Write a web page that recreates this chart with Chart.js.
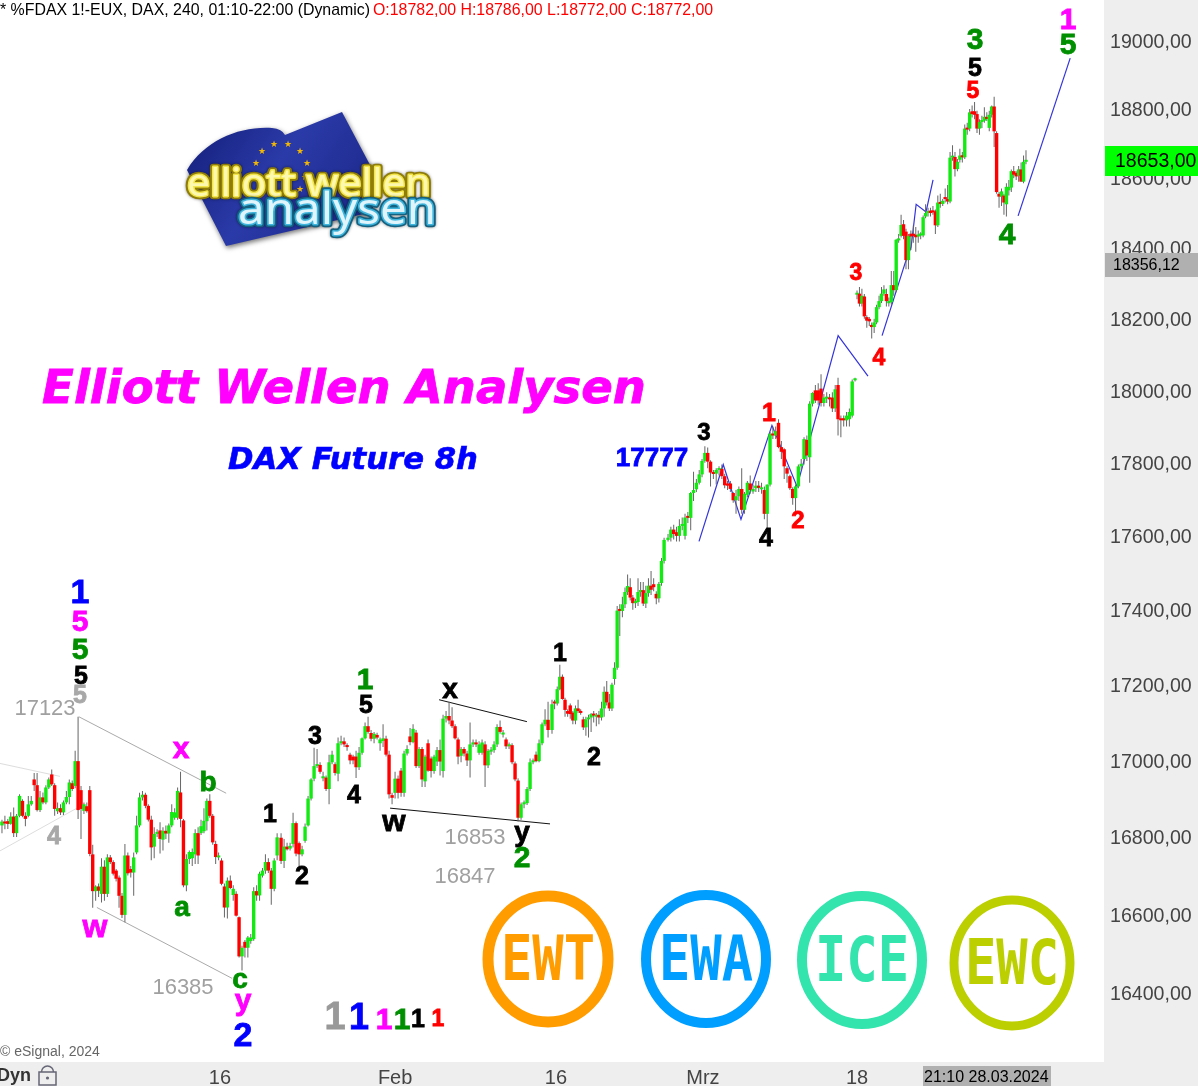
<!DOCTYPE html>
<html>
<head>
<meta charset="utf-8">
<title>DAX Future 8h</title>
<script src="https://cdn.jsdelivr.net/npm/chart.js@4"></script>
<style>
body { margin: 0; background: #fff; }
canvas { display: block; }
</style>
</head>
<body>
<canvas id="myChart" width="1198" height="1086"></canvas>
<script>
// open, high, low, close
var janBars = [
[16835,16850,16815,16845],[16845,16860,16825,16840],
[16846,16852,16826,16839],[16839,16869,16837,16858],[16858,16882,16805,16815],[16815,16865,16805,16860],[16860,16916,16856,16912],[16899,16903,16856,16860],
[16860,16869,16833,16852],[16860,16912,16856,16890],[16890,16912,16886,16899],[16955,16972,16925,16940],[16940,16972,16871,16875],[16875,16925,16870,16908],
[16908,16921,16890,16895],[16895,16940,16890,16934],[16934,16960,16930,16955],[16968,16981,16938,16942],[16940,16945,16860,16878],[16872,16895,16865,16880],
[16880,16890,16862,16869],[16869,16900,16862,16895],[16895,16925,16890,16909],[16909,16955,16890,16947],[16945,16952,16925,16930],[16938,17030,16932,17003],
[17003,17120,16852,16875],[16927,16938,16800,16878],[16873,16895,16865,16890],[16885,16895,16868,16872],[16927,16938,16755,16761],[16760,16785,16622,16665],
[16665,16680,16640,16677],[16677,16685,16650,16666],[16658,16750,16636,16728],[16728,16745,16640,16658],[16658,16760,16650,16752],[16752,16758,16735,16740],
[16740,16745,16705,16710],[16718,16722,16690,16697],[16700,16705,16622,16653],[16653,16660,16596,16604],[16604,16787,16585,16757],[16757,16765,16705,16711],
[16722,16730,16700,16713],[16713,16765,16653,16752],[16765,16860,16760,16835],[16835,16920,16830,16908],[16908,16925,16900,16915],[16915,16920,16880,16886],
[16886,16890,16845,16850],[16850,16860,16745,16778],[16780,16830,16750,16813],[16813,16825,16805,16815],[16822,16843,16762,16800],[16798,16830,16770,16821],
[16821,16835,16800,16814],[16814,16840,16790,16835],[16835,16890,16830,16870],[16855,16880,16850,16869],[16855,16934,16850,16925],[16921,16975,16830,16852],
[16848,16852,16675,16680],[16680,16760,16665,16748],[16748,16770,16735,16766],[16750,16775,16730,16766],[16760,16825,16735,16815],[16815,16830,16735,16757],
[16815,16850,16810,16833],[16820,16880,16815,16847],[16846,16905,16822,16899],[16899,16916,16855,16860],[16860,16865,16785,16791],[16787,16795,16735,16753],
[16752,16765,16745,16757],[16744,16750,16680,16684],[16677,16685,16597,16623],[16623,16700,16595,16692],[16692,16705,16670,16673],[16655,16680,16640,16671],
[16658,16665,16600,16602],[16598,16600,16495,16498],[16498,16525,16462,16520],[16535,16540,16495,16520],[16520,16550,16495,16546],[16537,16555,16530,16546],
[16542,16675,16538,16665],[16665,16680,16640,16654],[16654,16715,16640,16710],[16705,16725,16700,16718],[16718,16760,16710,16740],[16740,16750,16712,16718],
[16718,16725,16630,16671],[16671,16750,16665,16744],[16757,16815,16745,16804]
]
var febBars = [
[16803,16815,16735,16743],[16743,16800,16725,16780],[16780,16790,16770,16773],[16775,16790,16770,16782],[16787,16868,16778,16841],[16841,16845,16755,16762],
[16789,16793,16730,16760],[16760,16782,16755,16773],[16795,16840,16790,16832],[16835,16912,16832,16905],[16905,16958,16900,16955],[16957,17038,16950,16990],
[16990,17035,16985,16993],[16993,17000,16970,16975],[16958,16975,16950,16963],[16960,16965,16925,16930],[16930,17020,16890,17000],[17000,17030,16995,17020],
[16995,17000,16965,16972],[16970,17065,16950,17050],[17050,17070,17045,17055],[17055,17065,17040,17047],[17045,17050,17030,17040],[17020,17025,16995,17005],
[17015,17020,16995,17005],[17015,17030,16959,16987],[16987,17040,16980,17025],[17025,17065,17020,17063],[17063,17105,17060,17095],[17095,17120,17075,17080],
[17077,17085,17055,17062],[17062,17080,17050,17075],[17072,17078,17060,17065],[17050,17065,17030,17060],[17056,17100,17040,17063],[17062,17070,17015,17020],
[17020,17030,16905,16916],[16914,16920,16890,16907],[16920,16975,16905,16957],[16957,16965,16905,16920],[16978,16985,16910,16920],[16920,17030,16910,17023],
[17023,17045,17018,17035],[17068,17090,17045,17053],[17053,17100,17050,17088],[17078,17085,16985,16990],[16990,17040,16985,17035],[17035,17040,16935,16955],
[16950,17020,16935,17015],[17050,17060,16975,16978],[17010,17015,16960,16977],[16977,17020,16970,17015],[17002,17040,16990,17032],[17032,17060,16965,17002],
[16977,17125,16960,17115],[17115,17135,17105,17122],[17122,17160,17100,17110],[17110,17145,17090,17095],[17095,17100,17060,17063],[17060,17065,16995,17015],
[17017,17040,17000,17035],[17035,17040,17015,17023],[17023,17030,16990,17005],[17005,17105,16960,17047],[17047,17060,17040,17052],[17052,17060,17040,17047],
[17025,17055,17020,17047],[17025,17060,17020,17052],[17047,17055,16935,16992],[16992,17035,16985,17030],[17028,17040,17020,17032],[17032,17055,17025,17047],
[17047,17100,17040,17093],[17093,17110,17075,17080],[17073,17085,17065,17078],[17060,17065,17035,17042],[17042,17052,17035,17047],[17045,17050,16995,17000],
[16997,17002,16950,16955],[16952,16958,16845,16855],[16855,16895,16850,16890],[16890,16900,16880,16893],[16893,16935,16888,16930],[16930,17010,16925,17000],
[17000,17010,16995,17005],[17020,17028,17000,17003],[17003,17060,17000,17050],[17050,17105,17045,17100],[17100,17140,17095,17112],[17112,17160,17065,17085]
]
var lateFebBars = [
[17085,17165,17075,17153],[17160,17165,17140,17155],[17155,17200,17150,17193],[17193,17258,17190,17226],[17226,17232,17165,17167],[17165,17170,17120,17138],
[17135,17140,17120,17128],[17150,17155,17115,17127],[17131,17135,17100,17110],[17110,17150,17100,17142],[17142,17165,17130,17135],[17135,17140,17125,17130],
[17113,17120,17085,17092],[17092,17120,17070,17113],[17113,17125,17065,17118],[17118,17130,17080,17127],[17127,17135,17105,17123],[17120,17130,17095,17125],
[17125,17135,17100,17118],[17118,17160,17110,17142],[17142,17200,17120,17186],[17186,17215,17150,17158],[17158,17180,17135,17142],[17142,17210,17135,17205],
[17220,17265,17205,17250],[17250,17415,17245,17403],[17405,17420,17335,17402],[17402,17440,17385,17420],[17420,17465,17410,17453],[17453,17500,17445,17469],
[17466,17490,17430,17438],[17438,17445,17405,17423],[17423,17435,17410,17426],[17426,17490,17415,17453],[17453,17480,17440,17458],[17458,17480,17415,17422],
[17422,17470,17410,17450],[17450,17490,17440,17470],[17470,17510,17445,17459],[17474,17490,17455,17466],[17448,17455,17420,17436],[17436,17480,17425,17475],
[17477,17545,17470,17537],[17537,17600,17530,17594]
]
var marBars = [
[17594,17610,17590,17600],[17600,17630,17590,17622],[17622,17635,17595,17610],[17615,17630,17590,17605],[17605,17650,17590,17632],[17632,17655,17620,17636],
[17605,17665,17595,17655],[17657,17670,17640,17654],[17654,17725,17620,17722],[17722,17780,17700,17730],[17732,17760,17725,17750],[17750,17785,17745,17773],
[17773,17815,17765,17810],[17810,17850,17805,17832],[17832,17847,17790,17808],[17808,17812,17740,17778],[17778,17785,17760,17774],[17775,17790,17745,17785],
[17785,17795,17770,17788],[17788,17800,17760,17768],[17768,17775,17735,17743],[17748,17755,17730,17742],[17748,17755,17725,17733],[17722,17725,17695,17702],
[17702,17730,17665,17713],[17713,17740,17700,17733],[17733,17790,17665,17676],[17676,17725,17665,17720],[17717,17755,17710,17750],[17748,17770,17720,17730],
[17726,17745,17720,17733],[17735,17755,17725,17742],[17742,17755,17725,17736],[17732,17750,17720,17734],[17730,17740,17650,17665],[17665,17745,17620,17745],
[17745,17890,17740,17885],[17885,17905,17870,17880],[17880,17905,17870,17892],[17915,17925,17845,17848],[17848,17865,17815,17835],[17842,17845,17760,17795],
[17790,17795,17750,17775],[17768,17772,17730,17735],[17733,17738,17690,17708],[17708,17745,17670,17740],[17740,17800,17735,17795],[17795,17815,17785,17802],
[17815,17875,17800,17870],[17868,17880,17810,17825],[17820,17975,17750,17968],[17968,18000,17960,17998],[18005,18020,17970,17977],[18005,18025,17965,17977],
[18010,18050,17960,17970],[17970,17995,17960,17985],[17982,18000,17970,17985],[17985,17995,17960,17980],[17985,18000,17945,17955],[17955,18020,17945,18008],
[18020,18040,17880,17925],[17925,17935,17875,17922],[17925,17935,17905,17922],[17922,17945,17905,17935],[17925,17955,17905,17945],[17935,18035,17930,18030],
[18033,18040,18030,18037]
]
var lateMarBars = [
[18273,18285,18260,18276],[18276,18295,18240,18248],[18248,18290,18240,18270],[18268,18275,18205,18212],[18210,18215,18180,18200],[18205,18210,18185,18198],
[18188,18195,18150,18182],[18182,18205,18165,18195],[18195,18245,18190,18238],[18238,18270,18232,18255],[18255,18295,18250,18276],[18276,18300,18270,18288],
[18275,18290,18240,18255],[18249,18265,18240,18255],[18252,18340,18245,18300],[18300,18340,18270,18286],[18286,18430,18280,18429],[18427,18445,18420,18429],
[18440,18500,18435,18471],[18473,18485,18430,18440],[18452,18460,18345,18371],[18371,18445,18345,18440],[18446,18455,18400,18438],[18446,18470,18420,18440],
[18443,18465,18395,18436],[18438,18455,18420,18441],[18441,18450,18430,18444],[18441,18498,18436,18493],[18495,18530,18490,18505],[18505,18520,18495,18510],
[18512,18520,18495,18505],[18512,18525,18500,18507],[18510,18515,18445,18470],[18470,18555,18465,18535],[18535,18560,18520,18531],[18531,18545,18525,18540],
[18550,18575,18535,18545],[18545,18585,18530,18538],[18538,18680,18533,18664],[18664,18700,18655,18666],[18666,18680,18610,18631],[18631,18660,18625,18652],
[18658,18690,18650,18670],[18670,18680,18650,18665],[18665,18760,18660,18748],[18748,18765,18730,18745],[18748,18805,18740,18795],[18798,18815,18780,18790],
[18798,18825,18775,18788],[18790,18800,18735,18748],[18748,18775,18730,18767],[18767,18785,18750,18771],[18771,18810,18765,18782],[18782,18795,18770,18776],
[18750,18800,18740,18788],[18788,18815,18780,18812],[18812,18840,18695,18740],[18735,18740,18560,18565],[18560,18565,18520,18552],[18552,18575,18525,18567],
[18555,18560,18500,18535],[18530,18590,18495,18580],[18570,18600,18555,18580],[18578,18630,18565,18625],[18625,18640,18605,18615],[18620,18625,18600,18610],
[18612,18640,18595,18630],[18630,18650,18595,18595],[18595,18670,18590,18652],[18652,18685,18645,18656]
]

var yTicks = [19000,18800,18600,18400,18200,18000,17800,17600,17400,17200,17000,16800,16600,16400]
var dateLabels = ['16','Feb','16','Mrz','18']
var dateSlots = [77.6,139.8,196.9,249.1,303.8]

// first and last session slot of every block of bars
var blockFirst = [0.2,99.3,195.5,236.7,303.8]
var blockLast = [97.9,194.1,235.3,303.1,363.8]

// wave channels, [session slot, price]
var greyUpper = [[-0.5,16997],[20.8,16963]]
var greyLower = [[-0.5,16769],[26.8,16880]]
var channelTop = [[27.5,17120],[79.8,16919]]
var channelBottom = [[33.9,16623],[81.9,16442]]
var wedgeBottom = [[138,16880],[194.8,16839]]
var wedgeTop = [[155.4,17165],[186.6,17107]]
var blueSwingA = [[247.7,17590],[256.3,17800],[262.6,17650],[273.6,17908],[282.5,17740],[297.1,18158],[307.7,18045]]
var blueSwingB = [[312.7,18158],[320.9,18363],[323,18408],[324.8,18530],[328.3,18508],[330.8,18600]]
var blueSwingC = [[361,18497],[379.5,18953]]

var wicks = []
var bodies = []
var bodyColors = []
var blocks = [janBars, febBars, lateFebBars, marBars, lateMarBars]
for (var b = 0; b < blocks.length; b++){
    var step = (blockLast[b] - blockFirst[b]) / (blocks[b].length - 1)
    for (var i = 0; i < blocks[b].length; i++){
        var c = blocks[b][i]
        var slot = blockFirst[b] + i * step
        wicks.push({x: slot, y: [c[2], c[1]]})
        bodies.push({x: slot, y: [c[0], c[3]]})
        bodyColors.push(c[3] >= c[0] ? '#12ea12' : '#ff0000')
    }
}

function lineSet(points, color, width){
    return {
        type: 'line',
        data: points.map(function(p){ return {x: p[0], y: p[1]} }),
        borderColor: color,
        borderWidth: width,
        pointRadius: 0,
        tension: 0,
        fill: false,
        order: 3
    }
}

var money = function(v){ return v.toFixed(2).replace('.', ',') }

function put(ctx, text, x, y, size, color, weight){
    ctx.font = (weight || 'bold') + ' ' + size + 'px "Liberation Sans"'
    ctx.fillStyle = color
    ctx.textAlign = 'center'
    ctx.textBaseline = 'middle'
    ctx.fillText(text, x, y + 2)
    if (!weight){
        // the originals are a bit heavier than plain bold
        ctx.strokeStyle = color
        ctx.lineWidth = 0.8
        ctx.strokeText(text, x, y + 2)
    }
}

function ring(ctx, cx, cy, rx, ry, lw, color, text){
    ctx.save()
    ctx.strokeStyle = color
    ctx.lineWidth = lw
    ctx.beginPath()
    ctx.ellipse(cx, cy, rx, ry, 0, 0, Math.PI * 2)
    ctx.stroke()
    ctx.translate(cx, cy + 5)
    ctx.scale(0.84, 1)
    ctx.font = 'bold 62px "DejaVu Sans Mono"'
    ctx.fillStyle = color
    ctx.textAlign = 'center'
    ctx.textBaseline = 'middle'
    ctx.fillText(text, 0, 0)
    ctx.restore()
}

function logo(ctx){
    ctx.save()
    var g = ctx.createLinearGradient(190, 120, 370, 240)
    g.addColorStop(0, '#141f7a')
    g.addColorStop(0.45, '#2a3aa8')
    g.addColorStop(1, '#1a2686')
    ctx.shadowColor = 'rgba(0,0,0,0.55)'
    ctx.shadowBlur = 5
    ctx.shadowOffsetX = 1
    ctx.shadowOffsetY = 2
    ctx.fillStyle = g
    ctx.beginPath()
    ctx.moveTo(187, 170)
    ctx.bezierCurveTo(205, 140, 240, 126, 272, 128)
    ctx.quadraticCurveTo(282, 129, 285, 135)
    ctx.lineTo(342, 112)
    ctx.lineTo(378, 180)
    ctx.lineTo(372, 212)
    ctx.lineTo(226, 246)
    ctx.closePath()
    ctx.fill()
    ctx.restore()

    var stars = [[262,152],[274,145],[288,145],[300,152],[307,164],[305,178],[300,190],[256,164]]
    ctx.fillStyle = '#f2b705'
    ctx.font = '9px "DejaVu Sans"'
    ctx.textAlign = 'center'
    ctx.textBaseline = 'middle'
    stars.forEach(function(s){ ctx.fillText('\u2605', s[0], s[1]) })

    ctx.save()
    ctx.lineJoin = 'round'
    ctx.textAlign = 'left'
    ctx.textBaseline = 'alphabetic'
    ctx.font = '40px "Noto Sans"'
    ctx.translate(187, 196)
    ctx.scale(1.02, 0.95)
    ctx.shadowColor = 'rgba(0,0,0,0.5)'
    ctx.shadowBlur = 3
    ctx.strokeStyle = '#8f7d08'
    ctx.lineWidth = 7
    ctx.strokeText('elliott wellen', 0, 0)
    ctx.shadowBlur = 0
    ctx.strokeStyle = '#f3e64a'
    ctx.lineWidth = 3
    ctx.strokeText('elliott wellen', 0, 0)
    ctx.fillStyle = '#fdf8b0'
    ctx.fillText('elliott wellen', 0, 0)
    ctx.restore()

    ctx.save()
    ctx.lineJoin = 'round'
    ctx.textAlign = 'left'
    ctx.textBaseline = 'alphabetic'
    ctx.font = '48px "Noto Sans"'
    ctx.translate(238, 224)
    ctx.scale(0.99, 0.92)
    ctx.shadowColor = 'rgba(0,0,0,0.5)'
    ctx.shadowBlur = 3
    ctx.strokeStyle = '#14607f'
    ctx.lineWidth = 7
    ctx.strokeText('analysen', 0, 0)
    ctx.shadowBlur = 0
    ctx.strokeStyle = '#3fb4dc'
    ctx.lineWidth = 3.5
    ctx.strokeText('analysen', 0, 0)
    ctx.fillStyle = '#dff4fb'
    ctx.fillText('analysen', 0, 0)
    ctx.restore()
}

var sheet = {
    id: 'sheet',
    beforeDraw: function(chart){
        var ctx = chart.ctx
        ctx.fillStyle = '#fff'
        ctx.fillRect(0, 0, 1198, 1086)
        ctx.fillStyle = '#eeeeee'
        ctx.fillRect(1104, 0, 94, 1086)
        ctx.fillRect(0, 1062, 1198, 24)
    },
    afterDraw: function(chart){
        var ctx = chart.ctx
        ctx.save()

        // header
        ctx.textAlign = 'left'
        ctx.textBaseline = 'middle'
        ctx.font = '15.9px "Liberation Sans"'
        ctx.fillStyle = '#000'
        ctx.fillText('* %FDAX 1!-EUX, DAX, 240, 01:10-22:00 (Dynamic)', 0, 11)
        ctx.fillStyle = '#ff0000'
        ctx.fillText('O:18782,00 H:18786,00 L:18772,00 C:18772,00', 373, 11)

        logo(ctx)

        // headlines
        ctx.textAlign = 'center'
        ctx.font = 'italic bold 46.5px "DejaVu Sans"'
        ctx.fillStyle = '#ff00ff'
        ctx.strokeStyle = '#ff00ff'
        ctx.lineWidth = 0.8
        ctx.fillText('Elliott Wellen Analysen', 344, 391)
        ctx.strokeText('Elliott Wellen Analysen', 344, 391)
        ctx.font = 'italic bold 30.7px "DejaVu Sans"'
        ctx.fillStyle = '#0000ff'
        ctx.strokeStyle = '#0000ff'
        ctx.lineWidth = 0.6
        ctx.fillText('DAX Future 8h', 353, 461)
        ctx.strokeText('DAX Future 8h', 353, 461)

        var green = '#008f00', mag = '#ff00ff', blue = '#0000ff', red = '#ff0000', grey = '#a8a8a8'
        var notes = [
            ['1',1068,19,30,mag],['5',1068,44,30,green],['3',975,39,30,green],['5',975,67,25,'#000'],['5',973,90,23,red],
            ['4',1007,234,30,green],['3',856,272,23,red],['4',879,357,23,red],['1',769,412,25,red],['2',798,519,24,red],
            ['4',766,537,25,'#000'],['3',704,431,24,'#000'],['1',80,592,34,blue],['5',80,621,30,mag],['5',80,649,30,green],
            ['5',81,675,25,'#000'],['5',80,694,25,grey],['4',54,835,25,grey],['x',181,748,30,mag],['b',208,781,28,green],
            ['a',182,906,28,green],['w',95,926,32,mag],['c',240,978,28,green],['y',243,1000,30,mag],['2',243,1035,34,blue],
            ['1',270,813,25,'#000'],['2',302,875,25,'#000'],['3',315,735,25,'#000'],['4',354,794,25,'#000'],['5',366,704,25,'#000'],
            ['1',365,679,30,green],['x',450,688,28,'#000'],['w',394,821,30,'#000'],['y',522,831,28,'#000'],['2',522,857,30,green],
            ['1',560,652,25,'#000'],['2',594,756,25,'#000'],['1',335,1017,38,'#999'],['1',359,1017,36,blue],['1',384,1019,30,mag],
            ['1',402,1019,30,green],['1',418,1018,25,'#000'],['1',438,1018,23,red],['17777',652,457,26,blue]
        ]
        notes.forEach(function(n){ put(ctx, n[0], n[1], n[2], n[3], n[4]) })

        var priceNotes = [['17123',45,707],['16385',183,986],['16853',475,836],['16847',465,875]]
        priceNotes.forEach(function(n){ put(ctx, n[0], n[1], n[2], 22, '#a0a0a0', 'normal') })

        ring(ctx, 548, 959, 60, 63, 11, '#ff9c00', 'EWT')
        ring(ctx, 706, 959, 60, 64, 10, '#009fff', 'EWA')
        ring(ctx, 862, 960, 60, 64, 10, '#33e4ac', 'ICE')
        ring(ctx, 1012, 963, 58, 63, 9, '#bccf00', 'EWC')

        // footer
        ctx.textAlign = 'left'
        ctx.textBaseline = 'middle'
        ctx.font = '14px "Liberation Sans"'
        ctx.fillStyle = '#666'
        ctx.fillText('\u00a9 eSignal, 2024', 0, 1052)
        ctx.font = 'bold 18px "Liberation Sans"'
        ctx.fillStyle = '#333'
        ctx.fillText('Dyn', -3, 1076)
        ctx.strokeStyle = '#667'
        ctx.lineWidth = 1.5
        ctx.strokeRect(39, 1072, 17, 13)
        ctx.beginPath()
        ctx.arc(47.5, 1072, 6, Math.PI, 0)
        ctx.stroke()
        ctx.beginPath()
        ctx.arc(47.5, 1078, 1.6, 0, Math.PI * 2)
        ctx.fillStyle = '#667'
        ctx.fill()

        // crosshair and price boxes
        ctx.fillStyle = '#b0b0b0'
        ctx.fillRect(923, 1066, 128, 20)
        ctx.fillStyle = '#000'
        ctx.font = '16px "Liberation Sans"'
        ctx.fillText('21:10 28.03.2024', 924, 1078)
        ctx.fillStyle = '#00ff00'
        ctx.fillRect(1105, 146, 93, 30)
        ctx.fillStyle = '#000'
        ctx.font = '19.5px "Liberation Sans"'
        ctx.fillText('18653,00', 1115, 162)
        ctx.fillStyle = '#b0b0b0'
        ctx.fillRect(1105, 253, 93, 24)
        ctx.fillStyle = '#000'
        ctx.font = '16px "Liberation Sans"'
        ctx.fillText('18356,12', 1113, 266)
        ctx.restore()
    }
}

var ctx = document.getElementById('myChart')
var myChart = new Chart(ctx, {
    type: 'bar',
    plugins: [sheet],
    data: {
        datasets: [
            {
                data: bodies,
                backgroundColor: bodyColors,
                barThickness: 3.4,
                minBarLength: 2,
                inflateAmount: 0,
                grouped: false,
                order: 1
            },
            {
                data: wicks,
                backgroundColor: '#666',
                barThickness: 1,
                inflateAmount: 0,
                grouped: false,
                order: 2
            },
            lineSet(greyUpper, '#dddddd', 1),
            lineSet(greyLower, '#dddddd', 1),
            lineSet(channelTop, '#aaaaaa', 1),
            lineSet(channelBottom, '#aaaaaa', 1),
            lineSet(wedgeBottom, '#111111', 1),
            lineSet(wedgeTop, '#111111', 1),
            lineSet(blueSwingA, '#3333dd', 1.2),
            lineSet(blueSwingB, '#3333dd', 1.2),
            lineSet(blueSwingC, '#3333dd', 1.2)
        ]
    },
    options: {
        responsive: false,
        animation: false,
        layout: { padding: 0, autoPadding: false },
        plugins: {
            legend: { display: false },
            tooltip: { enabled: false }
        },
        scales: {
            x: {
                type: 'linear',
                position: 'bottom',
                offset: false,
                bounds: 'data',
                min: -0.5,
                max: 391.5,
                grid: { display: false, drawTicks: false, offset: false },
                border: { display: false },
                afterBuildTicks: function(axis){
                    axis.ticks = dateSlots.map(function(s){ return {value: s} })
                },
                afterFit: function(axis){
                    axis.height = 24
                    axis.paddingLeft = 0
                    axis.paddingRight = 0
                },
                ticks: {
                    autoSkip: false,
                    maxRotation: 0,
                    padding: 4,
                    color: '#444',
                    font: { family: 'Liberation Sans', size: 20 },
                    callback: function(v){ return dateLabels[dateSlots.indexOf(v)] }
                }
            },
            y: {
                type: 'logarithmic',
                position: 'right',
                bounds: 'data',
                min: 16231,
                max: 19124,
                grid: { display: false, drawTicks: false },
                border: { display: false },
                afterBuildTicks: function(axis){
                    axis.ticks = yTicks.map(function(v){ return {value: v} })
                },
                afterFit: function(axis){
                    axis.width = 94
                    axis.paddingTop = 0
                    axis.paddingBottom = 0
                },
                ticks: {
                    autoSkip: false,
                    padding: 6,
                    color: '#444',
                    font: { family: 'Liberation Sans', size: 19.6 },
                    callback: function(v){ return money(v) }
                }
            }
        }
    }
})
</script>
</body>
</html>
